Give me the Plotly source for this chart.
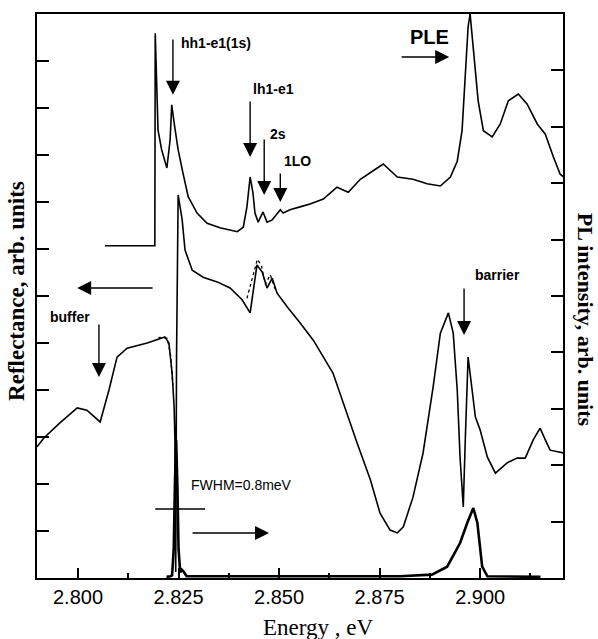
import plotly.graph_objects as go

# ---------------- data ----------------
# PLE spectrum (right axis, arb. units)
ple_E = [2.8067, 2.8191, 2.8192, 2.8196, 2.8199, 2.8208, 2.8221, 2.8229, 2.8233, 2.8239,
         2.8249, 2.8261, 2.8274, 2.8296, 2.8321, 2.8353, 2.8396, 2.8411, 2.8420, 2.8428,
         2.8435, 2.8440, 2.8448, 2.8460, 2.8470, 2.8483, 2.8503, 2.8510, 2.8527, 2.8552,
         2.8577, 2.8610, 2.8644, 2.8672, 2.8702, 2.8734, 2.8759, 2.8794, 2.8833, 2.8868,
         2.8901, 2.8926, 2.8943, 2.8955, 2.8963, 2.8970, 2.8975, 2.8983, 2.8995, 2.9008,
         2.9030, 2.9050, 2.9070, 2.9095, 2.9117, 2.9142, 2.9162, 2.9182, 2.9199, 2.9207]
ple_I = [5.89, 5.89, 9.66, 8.53, 7.94, 7.59, 7.27, 7.77, 8.39, 8.07,
         7.59, 7.18, 6.76, 6.47, 6.29, 6.21, 6.14, 6.22, 6.58, 7.11,
         6.83, 6.47, 6.31, 6.49, 6.31, 6.35, 6.53, 6.47, 6.53, 6.58,
         6.63, 6.72, 6.93, 6.84, 7.07, 7.22, 7.34, 7.11, 7.07, 6.99,
         6.95, 7.11, 7.39, 7.93, 8.81, 9.77, 10.0, 9.42, 8.46, 7.93,
         7.82, 8.05, 8.46, 8.58, 8.40, 8.05, 7.87, 7.47, 7.16, 7.11]

# Reflectance spectrum (left axis, arb. units)
refl_E = [2.7898, 2.7915, 2.7955, 2.7998, 2.8022, 2.8055, 2.8077, 2.8097, 2.8122, 2.8172,
          2.8216, 2.8226, 2.8234, 2.8239, 2.8241, 2.8243, 2.8245, 2.8249, 2.8259, 2.8266,
          2.8284, 2.8311, 2.8346, 2.8378, 2.8408, 2.8428, 2.8445, 2.8458, 2.8470, 2.8483,
          2.8495, 2.8520, 2.8552, 2.8585, 2.8634, 2.8659, 2.8694, 2.8727, 2.8751, 2.8776,
          2.8794, 2.8809, 2.8833, 2.8858, 2.8883, 2.8901, 2.8913, 2.8921, 2.8933, 2.8943,
          2.8950, 2.8958, 2.8963, 2.8970, 2.8980, 2.8988, 2.9000, 2.9018, 2.9038, 2.9067,
          2.9092, 2.9112, 2.9132, 2.9149, 2.9162, 2.9174, 2.9207]
refl_R = [2.79, 2.98, 3.30, 3.62, 3.57, 3.32, 4.00, 4.70, 4.89, 5.00,
          5.13, 5.00, 4.36, 3.64, 2.94, 0.13, 4.70, 8.15, 7.62, 6.98,
          6.55, 6.40, 6.30, 6.17, 5.92, 5.64, 6.66, 6.51, 6.17, 6.38,
          6.06, 5.77, 5.43, 5.06, 4.36, 3.72, 2.87, 2.09, 1.38, 1.02,
          0.96, 1.09, 1.72, 2.66, 4.06, 5.21, 5.49, 5.64, 5.21, 4.00,
          2.57, 1.51, 2.94, 4.70, 4.00, 3.43, 3.15, 2.57, 2.23, 2.45,
          2.55, 2.55, 2.94, 3.19, 2.94, 2.72, 2.66]

# Reflectance fit (dotted)
fit_E = [2.8200, 2.8222, 2.8230, 2.8236, None, 2.8420, 2.8438, 2.8446, 2.8456, 2.8466, 2.8478, 2.8490]
fit_R = [5.12, 5.10, 4.75, 4.10, None, 5.95, 6.55, 6.78, 6.65, 6.25, 6.45, 6.15]

# PL spectrum (right axis, arb. units)
pl_E = [2.8220, 2.8230, 2.8234, 2.8238, 2.8241, 2.8244, 2.8247, 2.8250, 2.8254, 2.8258,
        2.8262, 2.8270, 2.8800, 2.8880, 2.8918, 2.8950, 2.8968, 2.8983, 2.8993, 2.8998,
        2.9005, 2.9018, 2.9150]
pl_I = [0.02, 0.03, 0.05, 0.52, 1.66, 2.45, 1.66, 0.52, 0.10, 0.15,
        0.12, 0.03, 0.03, 0.06, 0.20, 0.62, 0.98, 1.24, 0.98, 0.62,
        0.20, 0.03, 0.02]

x_ticks = [2.800, 2.825, 2.850, 2.875, 2.900]
x_tick_labels = ["2.800", "2.825", "2.850", "2.875", "2.900"]
x_minor = [2.8125, 2.8375, 2.8625, 2.8875, 2.9125]

# ---------------- figure ----------------
fig = go.Figure()
fig.add_trace(go.Scatter(x=ple_E, y=ple_I, mode="lines", yaxis="y2",
                         line=dict(color="black", width=1.6), showlegend=False))
fig.add_trace(go.Scatter(x=refl_E, y=refl_R, mode="lines", yaxis="y",
                         line=dict(color="black", width=1.6), showlegend=False))
fig.add_trace(go.Scatter(x=fit_E, y=fit_R, mode="lines", yaxis="y",
                         line=dict(color="black", width=1.3, dash="dot"), showlegend=False))
fig.add_trace(go.Scatter(x=pl_E, y=pl_I, mode="lines", yaxis="y2",
                         line=dict(color="black", width=2.6), showlegend=False))

sans = "Liberation Sans, Arial, sans-serif"
serif = "Liberation Serif, Times New Roman, serif"

fig.update_layout(
    width=598, height=639,
    margin=dict(l=37, r=35, t=14, b=61),
    paper_bgcolor="white", plot_bgcolor="white",
    font=dict(family=sans, color="black"),
    xaxis=dict(range=[2.7898, 2.9206], tickvals=x_ticks, ticktext=x_tick_labels,
               ticks="inside", ticklen=10, tickwidth=2, tickcolor="black",
               minor=dict(tickvals=x_minor, ticks="inside", ticklen=5, tickwidth=2, tickcolor="black"),
               showline=True, linewidth=2, linecolor="black", mirror=True,
               showgrid=False, zeroline=False,
               tickfont=dict(family=sans, size=20, color="black")),
    yaxis=dict(range=[0, 12], dtick=1, ticks="inside", ticklen=12, tickwidth=2, tickcolor="black",
               showticklabels=False, showline=True, linewidth=2, linecolor="black", mirror=True,
               showgrid=False, zeroline=False),
    yaxis2=dict(range=[0, 10], dtick=1, ticks="inside", ticklen=12, tickwidth=2, tickcolor="black",
                showticklabels=False, overlaying="y", side="right",
                showline=True, linewidth=2, linecolor="black",
                showgrid=False, zeroline=False),
)

anns = []
# axis titles
anns.append(dict(text="<b>Reflectance, arb. units</b>", xref="paper", yref="paper",
                 x=-0.038, y=0.509, xanchor="center", yanchor="middle",
                 textangle=-90, showarrow=False,
                 font=dict(family=serif, size=23, color="#000000")))
anns.append(dict(text="<b>PL intensity, arb. units</b>", xref="paper", yref="paper",
                 x=1.0427, y=0.457, xanchor="center", yanchor="middle",
                 textangle=90, showarrow=False,
                 font=dict(family=serif, size=22, color="#000000")))
anns.append(dict(text="Energy , eV", xref="paper", yref="paper",
                 x=0.534, y=-0.087, xanchor="center", yanchor="middle", showarrow=False,
                 font=dict(family=serif, size=23, color="#000000")))

# labels
def label(txt, x, y, size=14, bold=True, xanchor="center"):
    anns.append(dict(text=f"<b>{txt}</b>" if bold else txt, xref="x", yref="y", x=x, y=y,
                     xanchor=xanchor, yanchor="middle", showarrow=False,
                     font=dict(family=sans, size=size, color="black")))

label("hh1-e1(1s)", 2.8251, 11.38, xanchor="left")
label("lh1-e1", 2.8485, 10.40)
label("2s", 2.8498, 9.447)
label("1LO", 2.8547, 8.872)
label("PLE", 2.8873, 11.51, size=20)
label("buffer", 2.7980, 5.553)
label("barrier", 2.9042, 6.447)
label("FWHM=0.8meV", 2.8406, 1.979, bold=False)

# arrows: (tip_x, tip_y, tail_x, tail_y) in data coords of x / left y
def arrow(x, y, ax, ay):
    anns.append(dict(text="", xref="x", yref="y", axref="x", ayref="y",
                     x=x, y=y, ax=ax, ay=ay, showarrow=True,
                     arrowhead=2, arrowsize=2.0, arrowwidth=1.4, arrowcolor="black", standoff=0))

arrow(2.8236, 10.28, 2.8236, 11.49)   # hh1-e1(1s)
arrow(2.8428, 8.957, 2.8428, 10.17)   # lh1-e1
arrow(2.8463, 8.149, 2.8463, 9.362)   # 2s
arrow(2.8503, 8.0, 2.8503, 8.638)     # 1LO
arrow(2.8923, 11.085, 2.8801, 11.085) # PLE ->
arrow(2.7998, 6.17, 2.8189, 6.17)     # <- reflectance
arrow(2.8052, 4.277, 2.8052, 5.426)   # buffer
arrow(2.8960, 5.170, 2.8960, 6.191)   # barrier
arrow(2.8475, 0.957, 2.8281, 0.957)   # PL ->

fig.update_layout(annotations=anns,
                  shapes=[dict(type="line", xref="x", yref="y", x0=2.8192, x1=2.8316,
                               y0=1.468, y1=1.468, line=dict(color="black", width=1.4))])

fig.write_html("out.html")
